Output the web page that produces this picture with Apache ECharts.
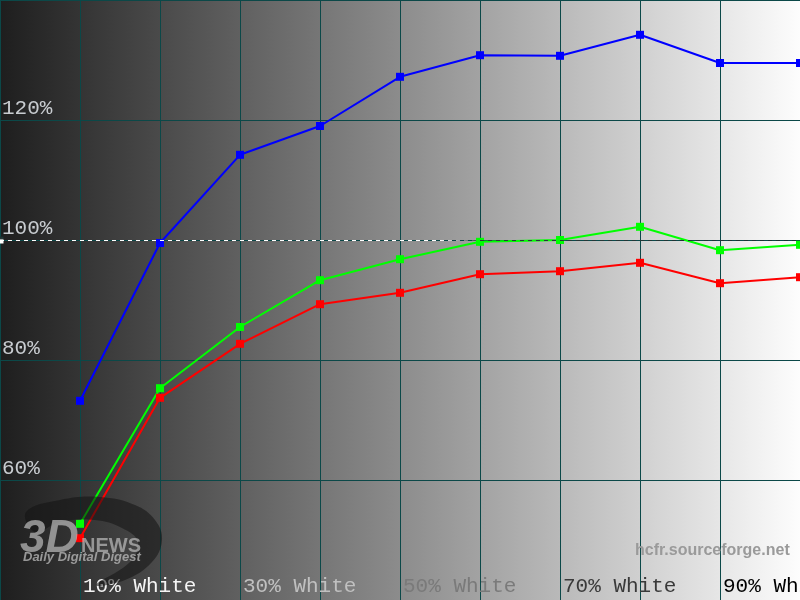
<!DOCTYPE html>
<html><head><meta charset="utf-8">
<script src="https://cdn.jsdelivr.net/npm/echarts@6/dist/echarts.min.js"></script>
<style>html,body{margin:0;padding:0;background:#fff}#c{width:800px;height:600px}</style>
</head><body><div id="c"></div>
<script>
const xLevels = [10, 20, 30, 40, 50, 60, 70, 80, 90, 100];
const blueValues  = [73.2, 99.5, 114.2, 119.0, 127.2, 130.8, 130.7, 134.2, 129.5, 129.5];
const greenValues = [52.7, 75.3, 85.5, 93.3, 96.8, 99.7, 100.0, 102.2, 98.3, 99.2];
const redValues   = [50.3, 73.7, 82.7, 89.3, 91.2, 94.3, 94.8, 96.2, 92.8, 93.8];
const xTickLabels = {10: '10% White', 30: '30% White', 50: '50% White', 70: '70% White', 90: '90% White'};
const xTickColors = {10: '#f4f4f4', 30: '#c0c0c0', 50: '#7a7a7a', 70: '#3a3a3a', 90: '#000000'};
const yTickLabels = {60: '60%', 80: '80%', 100: '100%', 120: '120%'};
const referenceLevel = 100;

const chart = echarts.init(document.getElementById('c'));
const pairs = v => xLevels.map((x, i) => [x, v[i]]);
const rich = {};
Object.keys(xTickColors).forEach(k => { rich['c' + k] = {color: xTickColors[k], fontFamily: 'Liberation Mono', fontSize: 21}; });

function line(name, color, vals, z) {
  return {
    name, type: 'line', data: pairs(vals), z,
    symbol: 'rect', symbolSize: 8, showSymbol: true,
    lineStyle: {color, width: 2}, itemStyle: {color},
    animation: false
  };
}

const series = [
  line('Blue', '#0000ff', blueValues, 3),
  line('Green', '#00ff00', greenValues, 4),
  line('Red', '#ff0000', redValues, 5)
];
series[0].markLine = {
  silent: true, symbol: ['rect', 'none'], symbolSize: 7, animation: false,
  label: {show: false},
  lineStyle: {
    type: [4, 4], width: 1,
    color: {type: 'linear', x: 0, y: 0, x2: 1, y2: 0, colorStops: [
      {offset: 0, color: '#ffffff'}, {offset: 0.55, color: '#ffffff'},
      {offset: 0.6, color: '#2a3a3a'}, {offset: 1, color: '#1a3030'}]}
  },
  data: [{yAxis: referenceLevel}]
};

chart.setOption({
  animation: false,
  backgroundColor: {type: 'linear', x: 0, y: 0, x2: 1, y2: 0, colorStops: [
    {offset: 0, color: '#1e1e1e'}, {offset: 0.5, color: '#8c8c8c'}, {offset: 1, color: '#fdfdfd'}]},
  grid: {left: 0, right: 0, top: 0, bottom: 0, containLabel: false, outerBoundsMode: 'none'},
  xAxis: {
    type: 'value', min: 0, max: 100, interval: 10,
    axisLine: {show: false}, axisTick: {show: false},
    splitLine: {show: true, lineStyle: {color: '#0b4848', width: 1}},
    axisLabel: {
      show: true, inside: true, align: 'left', margin: 3, verticalAlign: 'bottom',
      padding: [0, 0, 0, 3], hideOverlap: false,
      formatter: v => xTickLabels[v] ? '{c' + v + '|' + xTickLabels[v] + '}' : '',
      rich
    }
  },
  yAxis: {
    type: 'value', min: 40, max: 140, interval: 20,
    axisLine: {show: false}, axisTick: {show: false},
    splitLine: {show: true, lineStyle: {color: '#0b4848', width: 1}},
    axisLabel: {
      show: true, inside: true, align: 'left', verticalAlign: 'bottom', margin: 2,
      padding: [0, 0, 1, 0],
      color: '#c8ccd0', fontFamily: 'Liberation Mono', fontSize: 21,
      formatter: v => yTickLabels[v] || ''
    }
  },
  series,
  graphic: [
    {type: 'polygon', z: 10, silent: true,
     shape: {points: [[26,512],[60,500],[100,497],[135,505],[155,520],[162,540],[152,562],[125,580],[96,585],[130,562],[138,542],[122,528],[95,520],[60,522],[35,532]], smooth: 0.4},
     style: {fill: 'rgba(18,18,18,0.55)'}},
    {type: 'text', z: 11, silent: true, left: 20, top: 516,
     style: {text: '3D', font: 'italic bold 46px Liberation Sans', fill: 'rgba(190,190,190,0.7)'}},
    {type: 'text', z: 11, silent: true, left: 81, top: 536,
     style: {text: 'NEWS', font: 'bold 20px Liberation Sans', fill: 'rgba(190,190,190,0.7)'}},
    {type: 'text', z: 11, silent: true, left: 23, top: 551,
     style: {text: 'Daily Digital Digest', font: 'italic bold 13px Liberation Sans', fill: 'rgba(190,190,190,0.75)'}},
    {type: 'text', z: 11, silent: true, left: 635, top: 543,
     style: {text: 'hcfr.sourceforge.net', font: 'bold 16px Liberation Sans', fill: '#9a9a9a'}}
  ]
});
</script></body></html>
